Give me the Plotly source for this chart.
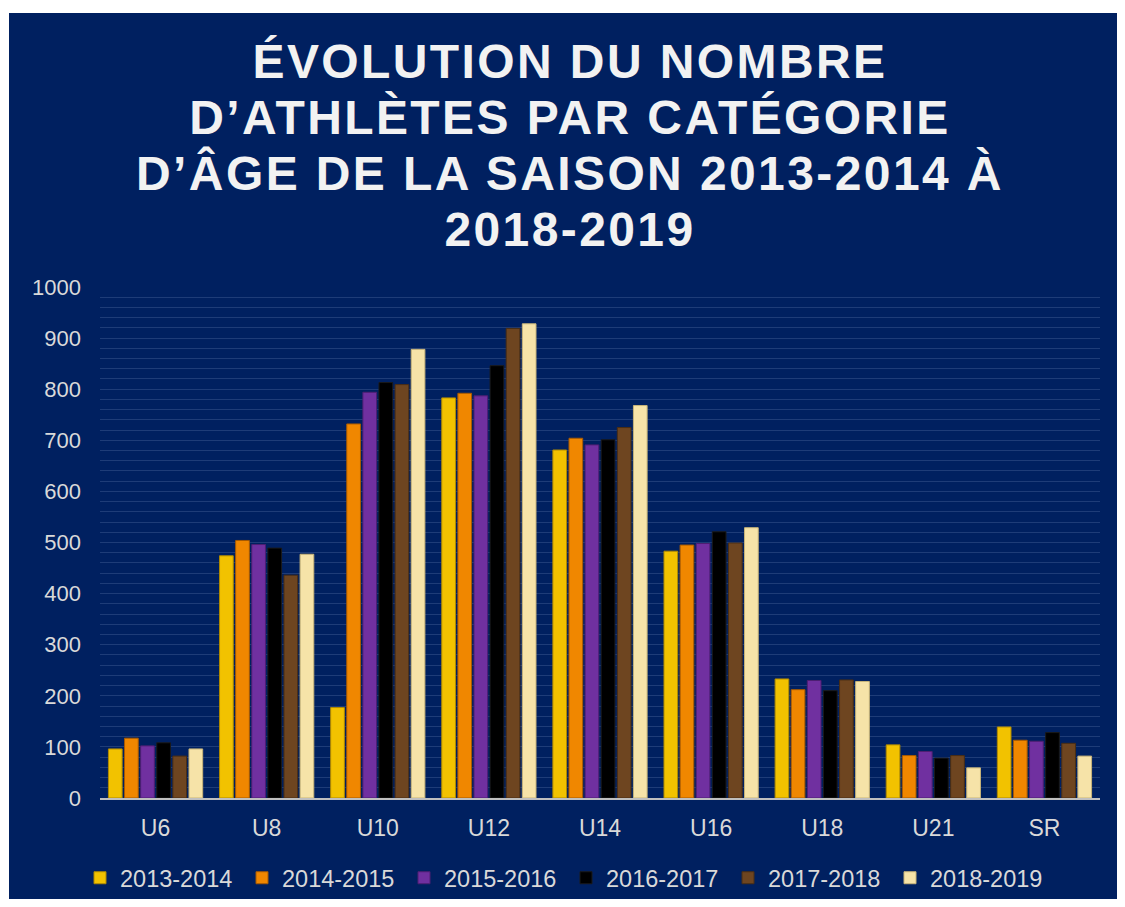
import plotly.graph_objects as go

categories = ["U6", "U8", "U10", "U12", "U14", "U16", "U18", "U21", "SR"]
seasons = ["2013-2014", "2014-2015", "2015-2016", "2016-2017", "2017-2018", "2018-2019"]

s2013_2014 = [96, 474, 177, 783, 681, 483, 233, 104, 139]
s2014_2015 = [117, 504, 732, 792, 704, 495, 212, 83, 113]
s2015_2016 = [102, 496, 794, 787, 691, 498, 230, 91, 111]
s2016_2017 = [108, 489, 813, 846, 701, 521, 210, 78, 128]
s2017_2018 = [82, 436, 809, 919, 725, 499, 231, 83, 107]
s2018_2019 = [96, 477, 878, 928, 768, 529, 228, 59, 82]

series = [s2013_2014, s2014_2015, s2015_2016, s2016_2017, s2017_2018, s2018_2019]
colors = ["#F2C200", "#F08700", "#7030A0", "#000000", "#6E4520", "#F6E3A8"]
edges = ["#B08A00", "#A85A00", "#4E1F72", "#1a1a1a", "#4A2E14", "#C8B478"]

NAVY = "#002060"
TXT = "#D9D9D9"
FONT = "Liberation Sans, Arial, sans-serif"

fig = go.Figure()
for name, vals, c, e in zip(seasons, series, colors, edges):
    fig.add_trace(go.Bar(x=categories, y=vals, name=name,
                         marker=dict(color=c, line=dict(color=e, width=1))))

title_lines = ["ÉVOLUTION DU NOMBRE", "D’ATHLÈTES PAR CATÉGORIE",
               "D’ÂGE DE LA SAISON 2013-2014 À", "2018-2019"]
span = '<span style="font-size:48px;letter-spacing:2.4px">{}</span>'
title_text = "<b>" + "<br>".join(span.format(t) for t in title_lines) + "</b>"

fig.update_layout(
    width=1117, height=891,
    paper_bgcolor=NAVY, plot_bgcolor=NAVY,
    margin=dict(l=92, r=25, t=279, b=101),
    barmode="group", bargap=0.13, bargroupgap=0.15,
    title=dict(text=title_text, x=0.5031, xanchor="center", xref="container",
               y=0.9214, yanchor="top", yref="container",
               font=dict(family=FONT, size=43, color="#F2F2F2")),
    font=dict(family=FONT, size=22, color=TXT),
    legend=dict(orientation="h", x=0.466, xanchor="center", xref="paper",
                y=0.0236, yanchor="middle", yref="container",
                font=dict(size=23.5, color=TXT), bgcolor="rgba(0,0,0,0)",
                itemwidth=30, entrywidth=117, tracegroupgap=0),
    xaxis=dict(showgrid=False, showline=True, linecolor="#BFBFBF", linewidth=2,
               ticks="", ticklabelstandoff=8, tickfont=dict(size=23, color=TXT)),
    yaxis=dict(range=[0, 1000], dtick=100, showline=False, zeroline=False,
               showgrid=True, gridcolor="#1E3C78", gridwidth=1,
               minor=dict(dtick=20, showgrid=True, gridcolor="#1E3C78", gridwidth=1),
               ticks="", ticklabelstandoff=18, tickfont=dict(size=22, color=TXT)),
    shapes=[
        dict(type="rect", xref="paper", yref="paper", x0=-0.2, x1=-0.091, y0=-0.5, y1=1.7,
             fillcolor="white", line=dict(width=0), layer="above"),
        dict(type="rect", xref="paper", yref="paper", x0=-0.2, x1=1.2, y0=1.5362, y1=1.7,
             fillcolor="white", line=dict(width=0), layer="above"),
    ],
)

fig.write_html("out.html")
